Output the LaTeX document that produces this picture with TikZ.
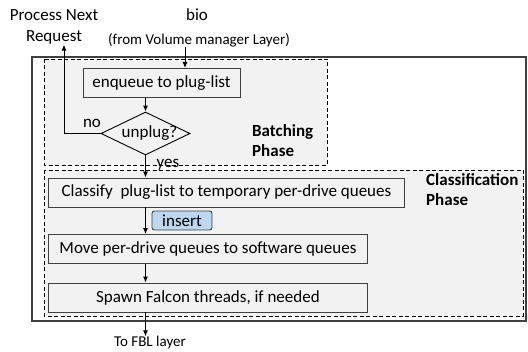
\documentclass[tikz,border=0pt]{standalone}
\usepackage{fontspec}
\setmainfont{Carlito}
\usetikzlibrary{shapes.geometric,arrows.meta}
\definecolor{phasefill}{HTML}{F2F2F2}
\definecolor{boxline}{HTML}{404040}
\definecolor{insertfill}{HTML}{BDD7EE}
\tikzset{
  big/.style={font=\fontsize{17}{20}\selectfont},
  small/.style={font=\fontsize{15}{17}\selectfont},
  stepbox/.style={draw=boxline, line width=0.9pt, fill=phasefill, big,
    minimum height=29pt, inner sep=0pt, anchor=west},
  phase/.style={draw=black, dashed, dash pattern=on 4pt off 2.5pt, line width=0.9pt, fill=phasefill},
  arr/.style={-{Latex[length=6pt,width=5pt]}, line width=1pt},
  txt/.style={inner sep=0pt, align=center},
  phaselabel/.style={txt, align=left, font=\fontsize{17}{20}\selectfont\bfseries, anchor=north west}
}
\begin{document}
\begin{tikzpicture}[x=1pt,y=-1pt]
\useasboundingbox (0,0) rectangle (528,352);
% outer frame and the two phase regions
\draw[draw=boxline, line width=1.2pt] (32,57) rectangle (526,321);
\draw[phase] (44,59) rectangle (327,165);
\draw[phase] (44,170) rectangle (523,316);

% labels outside the frame
\node[txt, big] (bio) at (197,15) {bio};
\node[txt, small] (from) at (199,40) {(from Volume manager Layer)};
\node[txt, font=\fontsize{17}{21}\selectfont] (pnr) at (54,27) {Process Next\\Request};
\node[txt, small] (fbl) at (150,343) {To FBL layer};

% batching phase
\node[stepbox, minimum width=157pt, anchor=center] (enq) at (161.5,83) {enqueue to plug-list};
\node[draw=black, line width=0.9pt, shape=diamond, aspect=2.07, minimum width=89pt,
      minimum height=43pt, inner sep=0pt, fill=phasefill,
      label={[big, xshift=4pt]center:unplug?}] (dia) at (145.5,133.5) {};
\node[txt, big] (no) at (92,123) {no};
\node[txt, big] (yes) at (168,165) {yes};
\node[phaselabel] (bp) at (252,124) {Batching\\Phase};

% classification phase
\node[stepbox, minimum width=356pt] (cls) at (48,192.5) {Classify\ \ plug-list to temporary per-drive queues};
\node[stepbox, minimum width=319pt] (mov) at (48,249) {Move per-drive queues to software queues};
\node[stepbox, minimum width=319pt] (spw) at (48,297.5) {Spawn Falcon threads, if needed};
\node[draw=boxline, line width=0.9pt, fill=insertfill, rounded corners=2.5pt, big,
      minimum width=60pt, minimum height=19pt, inner sep=0pt] (ins) at (182,220.5) {insert};
\node[phaselabel] (cp) at (426,173) {Classification\\Phase};

% connectors
\coordinate (bioin) at (185,68);
\draw[arr] (from.south -| bioin) -- (bioin);
\draw[arr] (enq.south -| dia.north) -- (dia.north);
\coordinate (ret) at (64,133.5);
\draw[arr] (dia.west) -- (ret) -- (ret |- pnr.south);
\draw[arr] (dia.south) -- (dia.south |- cls.north);
\draw[arr] (cls.south -| dia.south) -- (mov.north -| dia.south);
\draw[arr] (mov.south -| dia.south) -- (spw.north -| dia.south);
\draw[arr] (spw.south -| dia.south) -- (fbl.north -| dia.south);
\end{tikzpicture}
\end{document}
